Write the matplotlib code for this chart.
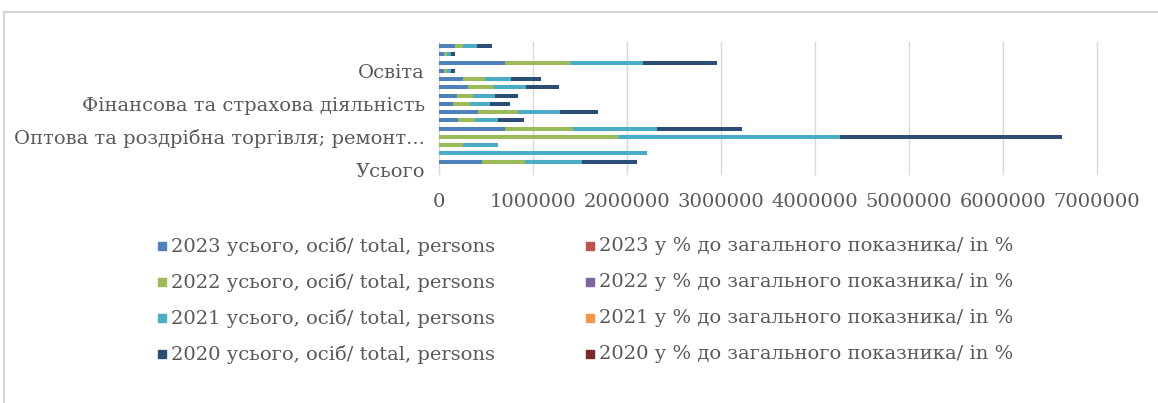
import matplotlib.pyplot as plt
from matplotlib.lines import Line2D
from matplotlib.patches import Rectangle

# categories, bottom to top (only every 4th label is shown, like in Excel)
categories = ["Усього",
              "Сільське, лісове та рибне господарство",
              "Промисловість",
              "Будівництво",
              "Оптова та роздрібна торгівля; ремонт...",
              "Транспорт, складське господарство",
              "Тимчасове розміщування й організація харчування",
              "Інформація та телекомунікації",
              "Фінансова та страхова діяльність",
              "Операції з нерухомим майном",
              "Професійна, наукова та технічна діяльність",
              "Адміністративне та допоміжне обслуговування",
              "Освіта",
              "Охорона здоров'я",
              "Мистецтво, спорт, розваги",
              "Надання інших видів послуг"]

# persons
p2023 = [0, 455000, 0, 0, 0, 700000, 200000, 420000, 150000, 190000, 310000, 260000, 50000, 700000, 50000, 170000]
p2022 = [0, 460000, 0, 260000, 1900000, 730000, 180000, 420000, 180000, 170000, 270000, 230000, 40000, 690000, 40000, 90000]
p2021 = [0, 605000, 2210000, 370000, 2370000, 890000, 250000, 450000, 210000, 240000, 350000, 280000, 40000, 780000, 40000, 140000]
p2020 = [0, 590000, 0, 0, 2360000, 900000, 270000, 400000, 220000, 240000, 350000, 320000, 40000, 790000, 40000, 160000]
# percent of total (too small to be seen)
pc2023 = [100, 8.1, 0, 0, 0, 12.4, 3.5, 7.4, 2.7, 3.4, 5.5, 4.6, 0.9, 12.4, 0.9, 3.0]
pc2022 = [100, 7.9, 0, 4.5, 32.6, 12.5, 3.1, 7.2, 3.1, 2.9, 4.6, 3.9, 0.7, 11.8, 0.7, 1.5]
pc2021 = [100, 5.5, 20.1, 3.4, 21.6, 8.1, 2.3, 4.1, 1.9, 2.2, 3.2, 2.5, 0.4, 7.1, 0.4, 1.3]
pc2020 = [100, 6.9, 0, 0, 27.5, 10.5, 3.1, 4.7, 2.6, 2.8, 4.1, 3.7, 0.5, 9.2, 0.5, 1.9]

labels = ["2023 усього, осіб/ total, persons", "2023 у % до загального показника/ in %",
          "2022 усього, осіб/ total, persons", "2022 у % до загального показника/ in %",
          "2021 усього, осіб/ total, persons", "2021 у % до загального показника/ in %",
          "2020 усього, осіб/ total, persons", "2020 у % до загального показника/ in %"]
series = [p2023, pc2023, p2022, pc2022, p2021, pc2021, p2020, pc2020]
colors = ['#4F81BD', '#C0504D', '#9BBB59', '#8064A2', '#4BACC6', '#F79646', '#2C4D75', '#772C2A']

plt.rcParams['font.family'] = ['DejaVu Serif']
txt = '#595959'
W, H = 1158, 403

fig = plt.figure(figsize=(W/100, H/100), dpi=100)
ax = fig.add_axes([439/W, 1-174/H, 658/W, 132/H])

ys = list(range(len(categories)))
left = [0]*len(categories)
for vals, lab, col in zip(series, labels, colors):
    ax.barh(ys, vals, left=left, height=0.5, color=col, label=lab, zorder=3)
    left = [l+v for l, v in zip(left, vals)]

ax.set_xlim(0, 7000000)
ax.set_ylim(-0.5, len(categories)-0.5)
ax.set_xticks(range(0, 7000001, 1000000))
ax.set_xticklabels([str(v) for v in range(0, 7000001, 1000000)])
ax.set_yticks(ys[::4])
ax.set_yticklabels(categories[::4])
ax.tick_params(length=0, colors=txt, labelsize=14)
ax.tick_params(axis='x', pad=14)
ax.tick_params(axis='y', pad=10)
ax.grid(axis='x', color='#d9d9d9', lw=1, zorder=0)
for gl in ax.get_xgridlines():
    gl.set_clip_on(False)
for s in ['top', 'right', 'bottom']:
    ax.spines[s].set_visible(False)
ax.spines['left'].set_color('#d9d9d9')

# legend: Excel puts it row by row in two columns, drawn by hand so rows line up
rows_y = [246, 282, 318, 354]
cols_x = [158, 586]
for i, (lab, col) in enumerate(zip(labels, colors)):
    r, c = i // 2, i % 2
    x0, y0 = cols_x[c], rows_y[r]
    fig.add_artist(Rectangle((x0/W, 1-(y0+4)/H), 8/W, 8/H, color=col, transform=fig.transFigure))
    fig.text((x0+13)/W, 1-y0/H, lab, color=txt, fontsize=14, va='center', ha='left')

# outer frame of the chart picture
fig.add_artist(Line2D([4/W, 1], [1-12/H, 1-12/H], color='#d4d4d4', lw=1.5))
fig.add_artist(Line2D([4/W, 4/W], [0, 1-12/H], color='#d4d4d4', lw=1.5))

fig.savefig('out.png', dpi=100)
